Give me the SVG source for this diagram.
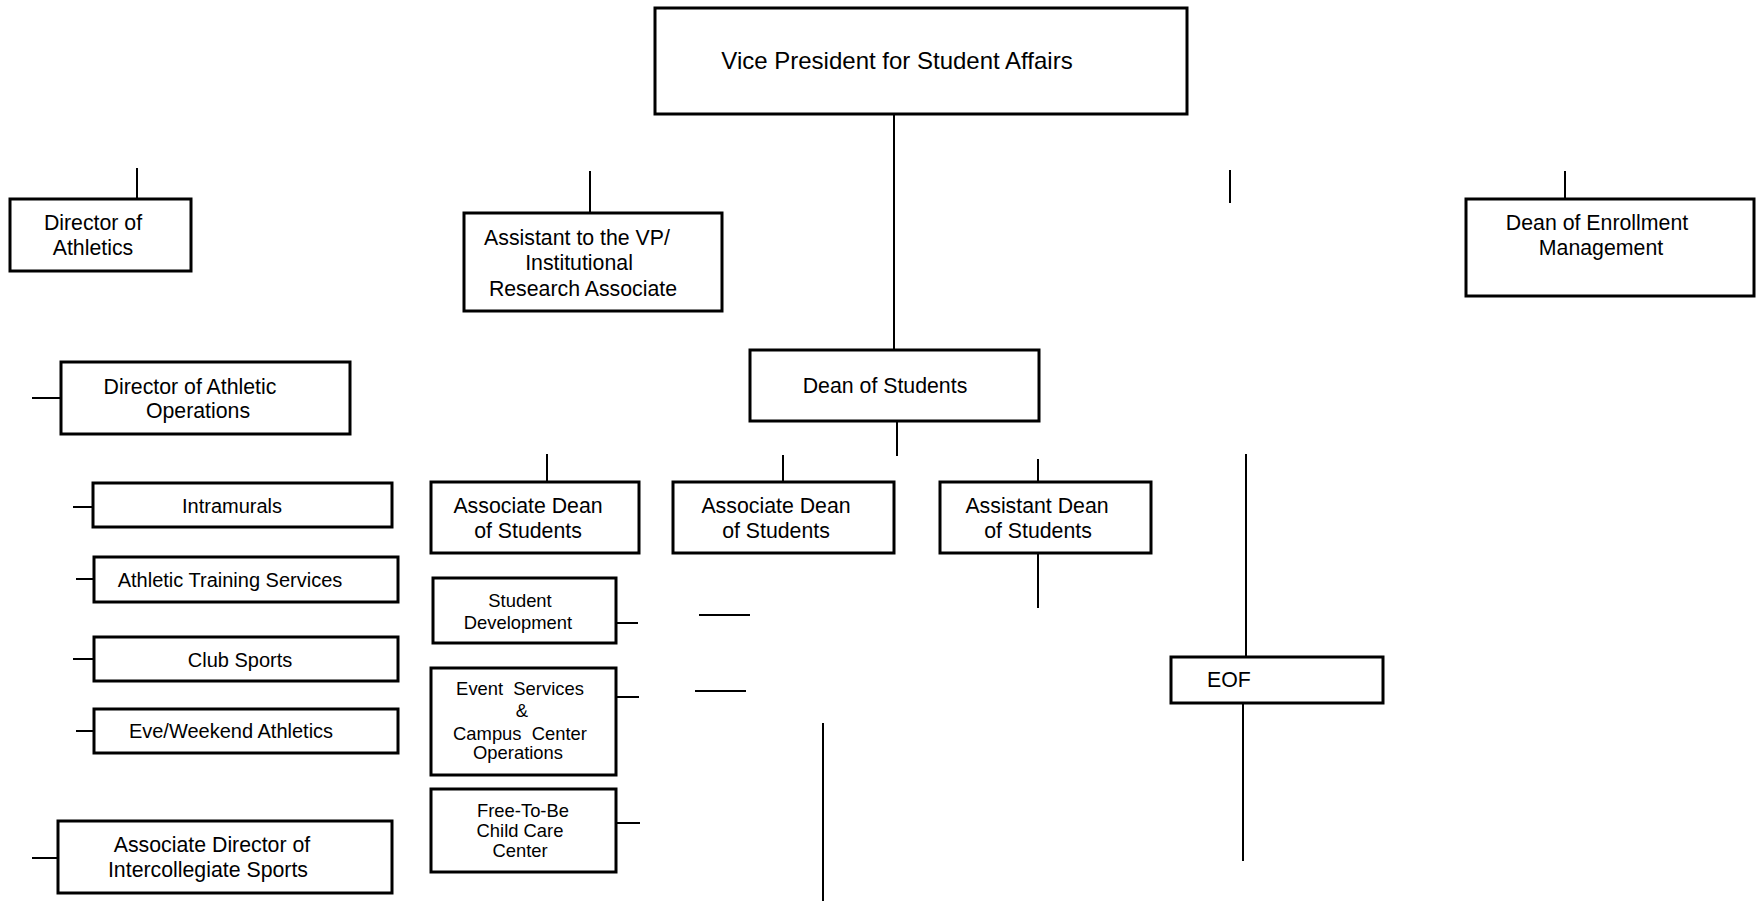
<svg xmlns="http://www.w3.org/2000/svg" width="1761" height="901" viewBox="0 0 1761 901">
<style>
.box{fill:#fff;stroke:#000;stroke-width:3}
.ln{stroke:#000;stroke-width:2;fill:none}
text{font-family:"Liberation Sans",Arial,sans-serif;fill:#000;text-anchor:middle}
.t21{font-size:21.3px}
.t20{font-size:20px}
.t18{font-size:18.4px}
</style>
<rect width="1761" height="901" fill="#fff"/>
<g id="connectors">
<line class="ln" x1="894" y1="114" x2="894" y2="350"/>
<line class="ln" x1="897" y1="421" x2="897" y2="456"/>
<line class="ln" x1="137" y1="168" x2="137" y2="199"/>
<line class="ln" x1="590" y1="171" x2="590" y2="213"/>
<line class="ln" x1="1230" y1="170" x2="1230" y2="203"/>
<line class="ln" x1="1565" y1="171" x2="1565" y2="199"/>
<line class="ln" x1="32" y1="398" x2="61" y2="398"/>
<line class="ln" x1="73" y1="507" x2="93" y2="507"/>
<line class="ln" x1="76" y1="579" x2="94" y2="579"/>
<line class="ln" x1="73" y1="659" x2="94" y2="659"/>
<line class="ln" x1="76" y1="731" x2="94" y2="731"/>
<line class="ln" x1="32" y1="858" x2="58" y2="858"/>
<line class="ln" x1="547" y1="454" x2="547" y2="482"/>
<line class="ln" x1="783" y1="455" x2="783" y2="482"/>
<line class="ln" x1="1038" y1="459" x2="1038" y2="482"/>
<line class="ln" x1="1038" y1="553" x2="1038" y2="608"/>
<line class="ln" x1="616" y1="623" x2="638" y2="623"/>
<line class="ln" x1="699" y1="615" x2="750" y2="615"/>
<line class="ln" x1="616" y1="697" x2="639" y2="697"/>
<line class="ln" x1="695" y1="691" x2="746" y2="691"/>
<line class="ln" x1="616" y1="823" x2="640" y2="823"/>
<line class="ln" x1="823" y1="723" x2="823" y2="901"/>
<line class="ln" x1="1246" y1="454" x2="1246" y2="657"/>
<line class="ln" x1="1243" y1="703" x2="1243" y2="861"/>
</g>
<g id="vp">
<rect class="box" x="655" y="8" width="532" height="106"/>
<text x="897" y="69" style="font-size:24px">Vice President for Student Affairs</text>
</g>
<g id="dir-athletics">
<rect class="box" x="10" y="199" width="181" height="72"/>
<text class="t21" x="93" y="230">Director of</text>
<text class="t21" x="93" y="255">Athletics</text>
</g>
<g id="asst-vp">
<rect class="box" x="464" y="213" width="258" height="98"/>
<text class="t21" x="577" y="245">Assistant to the VP/</text>
<text class="t21" x="579" y="270">Institutional</text>
<text class="t21" x="583" y="296">Research Associate</text>
</g>
<g id="dean-enrollment">
<rect class="box" x="1466" y="199" width="288" height="97"/>
<text class="t21" x="1597" y="230">Dean of Enrollment</text>
<text class="t21" x="1601" y="255">Management</text>
</g>
<g id="dir-athletic-ops">
<rect class="box" x="61" y="362" width="289" height="72"/>
<text class="t21" x="190" y="394">Director of Athletic</text>
<text class="t21" x="198" y="418">Operations</text>
</g>
<g id="dean-students">
<rect class="box" x="750" y="350" width="289" height="71"/>
<text class="t21" x="885" y="393">Dean of Students</text>
</g>
<g id="intramurals">
<rect class="box" x="93" y="483" width="299" height="44"/>
<text class="t20" x="232" y="513">Intramurals</text>
</g>
<g id="athletic-training">
<rect class="box" x="94" y="557" width="304" height="45"/>
<text class="t20" x="230" y="587">Athletic Training Services</text>
</g>
<g id="club-sports">
<rect class="box" x="94" y="637" width="304" height="44"/>
<text class="t20" x="240" y="667">Club Sports</text>
</g>
<g id="eve-weekend">
<rect class="box" x="94" y="709" width="304" height="44"/>
<text class="t20" x="231" y="738">Eve/Weekend Athletics</text>
</g>
<g id="assoc-dir-intercollegiate">
<rect class="box" x="58" y="821" width="334" height="72"/>
<text class="t21" x="212" y="852">Associate Director of</text>
<text class="t21" x="208" y="877">Intercollegiate Sports</text>
</g>
<g id="assoc-dean-1">
<rect class="box" x="431" y="482" width="208" height="71"/>
<text class="t21" x="528" y="513">Associate Dean</text>
<text class="t21" x="528" y="538">of Students</text>
</g>
<g id="assoc-dean-2">
<rect class="box" x="673" y="482" width="221" height="71"/>
<text class="t21" x="776" y="513">Associate Dean</text>
<text class="t21" x="776" y="538">of Students</text>
</g>
<g id="asst-dean">
<rect class="box" x="940" y="482" width="211" height="71"/>
<text class="t21" x="1037" y="513">Assistant Dean</text>
<text class="t21" x="1038" y="538">of Students</text>
</g>
<g id="student-development">
<rect class="box" x="433" y="578" width="183" height="65"/>
<text class="t18" x="520" y="607">Student</text>
<text class="t18" x="518" y="629">Development</text>
</g>
<g id="event-services">
<rect class="box" x="431" y="668" width="185" height="107"/>
<text class="t18" x="520" y="695" xml:space="preserve">Event  Services</text>
<text class="t18" x="522" y="717">&amp;</text>
<text class="t18" x="520" y="740" xml:space="preserve">Campus  Center</text>
<text class="t18" x="518" y="759">Operations</text>
</g>
<g id="free-to-be">
<rect class="box" x="431" y="789" width="185" height="83"/>
<text class="t18" x="523" y="817">Free-To-Be</text>
<text class="t18" x="520" y="837">Child Care</text>
<text class="t18" x="520" y="857">Center</text>
</g>
<g id="eof">
<rect class="box" x="1171" y="657" width="212" height="46"/>
<text class="t21" x="1207" y="687" style="text-anchor:start">EOF</text>
</g>
</svg>
